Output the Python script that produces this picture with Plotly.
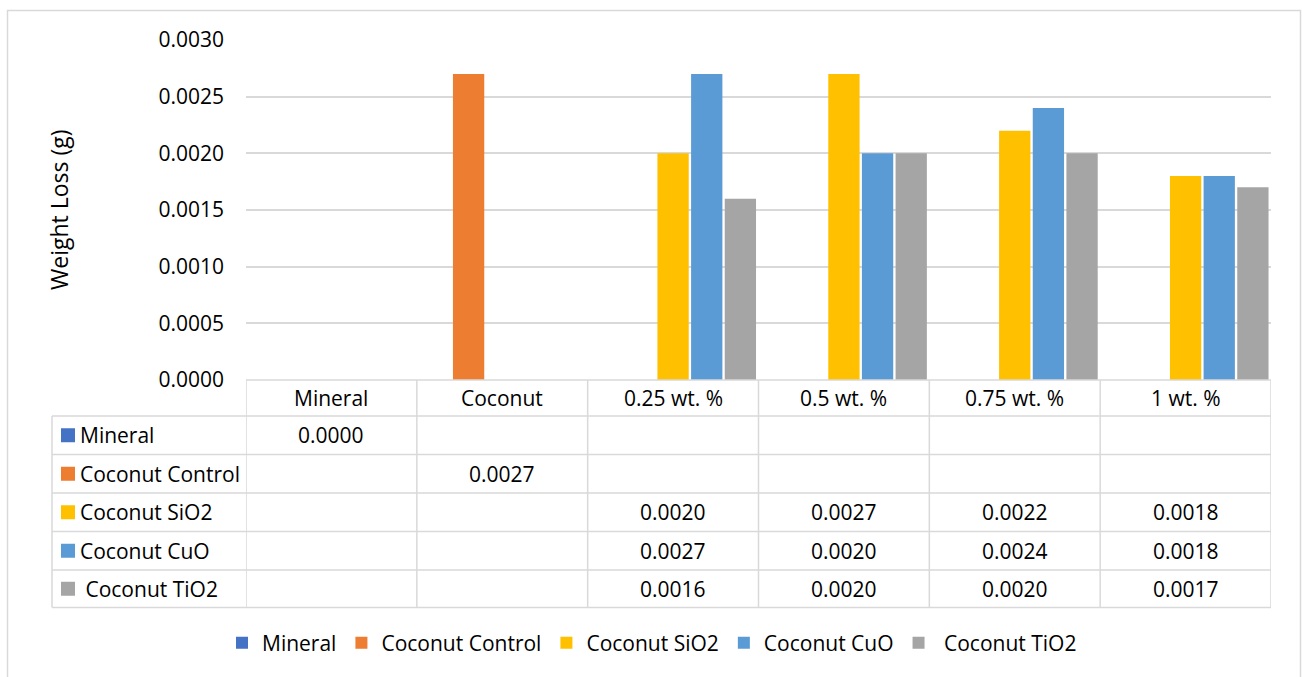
import plotly.graph_objects as go

# ---- data -------------------------------------------------------------
categories = ["Mineral", "Coconut", "0.25 wt. %", "0.5 wt. %", "0.75 wt. %", "1 wt. %"]
series_names = ["Mineral", "Coconut Control", "Coconut SiO2", "Coconut CuO", "\u00a0Coconut TiO2"]
mineral = [0.0, None, None, None, None, None]
coconut_control = [None, 0.0027, None, None, None, None]
coconut_sio2 = [None, None, 0.0020, 0.0027, 0.0022, 0.0018]
coconut_cuo = [None, None, 0.0027, 0.0020, 0.0024, 0.0018]
coconut_tio2 = [None, None, 0.0016, 0.0020, 0.0020, 0.0017]
y_ticks = [0.0, 0.0005, 0.0010, 0.0015, 0.0020, 0.0025, 0.0030]

series_values = [mineral, coconut_control, coconut_sio2, coconut_cuo, coconut_tio2]
colors = ["#4472C4", "#ED7D31", "#FFC000", "#5B9BD5", "#A5A5A5"]

# ---- geometry (pixels on a 1302x677 canvas) ---------------------------
W, H = 1302, 677
PL, PR, PT, PB = 246, 1271, 40, 380          # plot area box
FONT = "Open Sans"
FS = 21
GRID = "#D9D9D9"
TXT = "#000000"


def px2x(px):
    return (px - PL) / (PR - PL)


def py2y(py):
    return (PB - py) / (PB - PT)


fig = go.Figure()
for name, vals, col in zip(series_names, series_values, colors):
    fig.add_trace(go.Bar(
        x=list(range(len(categories))), y=vals, name=name,
        marker=dict(color=col, line=dict(width=0)),
    ))

shapes = []
annotations = []

# outer chart border
shapes.append(dict(type="rect", xref="paper", yref="paper",
                   x0=px2x(7.5), x1=px2x(1300.5), y0=py2y(690), y1=py2y(10.5),
                   line=dict(color=GRID, width=1.5), fillcolor="rgba(0,0,0,0)", layer="below"))

# data table grid
row_edges = [380, 416, 454.5, 493, 531.5, 570, 607.5]
n = len(categories)
# horizontal lines
shapes.append(dict(type="line", xref="paper", yref="paper",
                   x0=px2x(PL), x1=px2x(PR), y0=py2y(row_edges[0]), y1=py2y(row_edges[0]),
                   line=dict(color=GRID, width=1.5)))
for ry in row_edges[1:]:
    shapes.append(dict(type="line", xref="paper", yref="paper",
                       x0=px2x(52), x1=px2x(PR), y0=py2y(ry), y1=py2y(ry),
                       line=dict(color=GRID, width=1.5)))
# vertical lines
shapes.append(dict(type="line", xref="paper", yref="paper",
                   x0=px2x(52), x1=px2x(52), y0=py2y(row_edges[1]), y1=py2y(row_edges[-1]),
                   line=dict(color=GRID, width=1.5)))
for i in range(n + 1):
    xe = i - 0.5
    shapes.append(dict(type="line", xref="x", yref="paper",
                       x0=xe, x1=xe, y0=py2y(row_edges[0]), y1=py2y(row_edges[-1]),
                       line=dict(color=GRID, width=1.5)))

# header row: category names
hy = (row_edges[0] + row_edges[1]) / 2
for i, cat in enumerate(categories):
    annotations.append(dict(x=i, y=py2y(hy), xref="x", yref="paper", text=cat,
                            showarrow=False, xanchor="center", yanchor="middle",
                            font=dict(family=FONT, size=FS, color=TXT)))

# series rows: legend key, name and values
for r, (name, vals, col) in enumerate(zip(series_names, series_values, colors)):
    cy = (row_edges[r + 1] + row_edges[r + 2]) / 2
    shapes.append(dict(type="rect", xref="paper", yref="paper",
                       x0=px2x(61), x1=px2x(75), y0=py2y(cy + 7), y1=py2y(cy - 7),
                       fillcolor=col, line=dict(width=0)))
    annotations.append(dict(x=px2x(78), y=py2y(cy), xref="paper", yref="paper", text=name,
                            showarrow=False, xanchor="left", yanchor="middle",
                            font=dict(family=FONT, size=FS, color=TXT)))
    for i, v in enumerate(vals):
        if v is None:
            continue
        annotations.append(dict(x=i, y=py2y(cy), xref="x", yref="paper", text=f"{v:.4f}",
                                showarrow=False, xanchor="center", yanchor="middle",
                                font=dict(family=FONT, size=FS, color=TXT)))

# y-axis title
annotations.append(dict(x=px2x(59), y=0.5, xref="paper", yref="paper", text="Weight Loss (g)",
                        textangle=-90, showarrow=False, xanchor="center", yanchor="middle",
                        font=dict(family=FONT, size=23, color=TXT)))

fig.update_layout(
    width=W, height=H,
    margin=dict(l=PL, r=W - PR, t=PT, b=H - PB, autoexpand=False),
    paper_bgcolor="white", plot_bgcolor="white",
    barmode="group", bargap=0.015, bargroupgap=0.07,
    font=dict(family=FONT, size=FS, color=TXT),
    xaxis=dict(range=[-0.5, n - 0.5], showticklabels=False, showgrid=False,
               zeroline=False, showline=False, ticks=""),
    yaxis=dict(range=[0, 0.003], tickvals=y_ticks, tickformat=".4f",
               showgrid=True, gridcolor=GRID, gridwidth=1.5, zeroline=False,
               showline=False, ticks="", ticklen=0, ticklabelstandoff=21,
               tickfont=dict(family=FONT, size=FS, color=TXT), title=None),
    showlegend=True,
    legend=dict(orientation="h", x=px2x(652), xanchor="center", xref="paper",
                y=py2y(643), yanchor="middle", yref="paper",
                font=dict(family=FONT, size=FS, color=TXT), itemwidth=30,
                bgcolor="rgba(0,0,0,0)", traceorder="normal"),
    shapes=shapes, annotations=annotations,
)

fig.write_html("out.html")
